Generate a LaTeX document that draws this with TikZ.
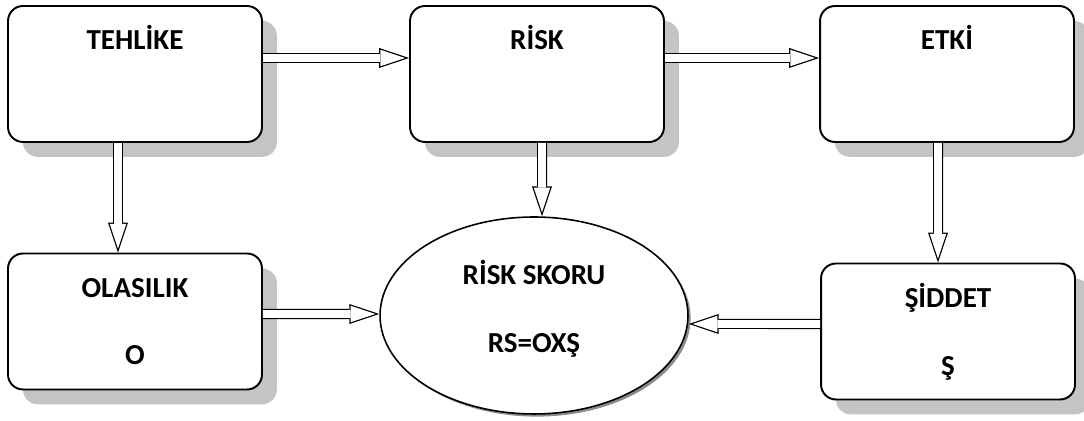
\documentclass[tikz,border=0pt]{standalone}
\usepackage{fontspec}
\setmainfont{Carlito}
\usetikzlibrary{arrows.meta,shapes.geometric,shadows}

\newcommand{\lab}{\bfseries\fontsize{16.5}{20}\selectfont}

\begin{document}
\begin{tikzpicture}[x=0.02cm, y=0.02cm,
    box/.style={draw, line width=1.1pt, rounded corners=8.5pt, fill=white,
      minimum width=5.08cm, minimum height=2.72cm, inner sep=0pt, font=\lab,
      drop shadow={shadow xshift=8.5pt, shadow yshift=-8.5pt, fill=black!23, opacity=1}},
    topbox/.style={box, text height=0.88cm, text depth=1.84cm},
    lowbox/.style={box, align=center},
    oval/.style={ellipse, draw, line width=0.9pt, fill=white,
      minimum width=6.16cm, minimum height=3.94cm, inner sep=0pt,
      drop shadow={shadow xshift=1.5pt, shadow yshift=-1.5pt, fill=black!45, opacity=1}},
    ovaltext/.style={font=\lab, align=center, yshift=3.8pt},
    blockarr/.style={line width=5.7pt,
      -{Triangle[length=17pt, width=11.4pt, line width=0pt]},
      postaction={draw=white, line width=4.3pt, shorten >=2.2pt,
        -{Triangle[length=14.1pt, width=9.4pt, line width=0pt]}}}]
  \useasboundingbox (0,0) rectangle (1084,421);

  \node[topbox] (tehlike) at (135,347) {TEHLİKE};
  \node[topbox] (risk) at (537,347) {RİSK};
  \node[topbox] (etki) at (947,347) {ETKİ};

  \node[lowbox] (olasilik) at (135,99.5) {OLASILIK\\[18.5pt]O};
  \node[lowbox] (siddet) at (948,89.5) {ŞİDDET\\[18.5pt]Ş};

  \node[oval, label={[ovaltext, name=skortext]center:{RİSK SKORU\\[18.5pt]RS=OXŞ}}]
    (skor) at (534,105.5) {};

  \foreach \from/\to in {tehlike/risk, risk/etki} {
    \draw[blockarr] ([yshift=0.32cm]\from.east) -- ([yshift=0.32cm]\to.west);
  }

  \draw[blockarr] ([xshift=-0.34cm]tehlike.south) -- ([xshift=-0.34cm]olasilik.north);
  \draw[blockarr] ([xshift=0.1cm]risk.south) -- ([xshift=0.16cm]skor.north);
  \draw[blockarr] ([xshift=-0.18cm]etki.south) -- ([xshift=-0.2cm]siddet.north);

  \draw[blockarr] ([yshift=0.15cm]olasilik.east) -- ([yshift=0.03cm]skor.west);
  \draw[blockarr] ([yshift=0.15cm]siddet.west) -- ([yshift=-0.17cm]skor.east);
\end{tikzpicture}
\end{document}
